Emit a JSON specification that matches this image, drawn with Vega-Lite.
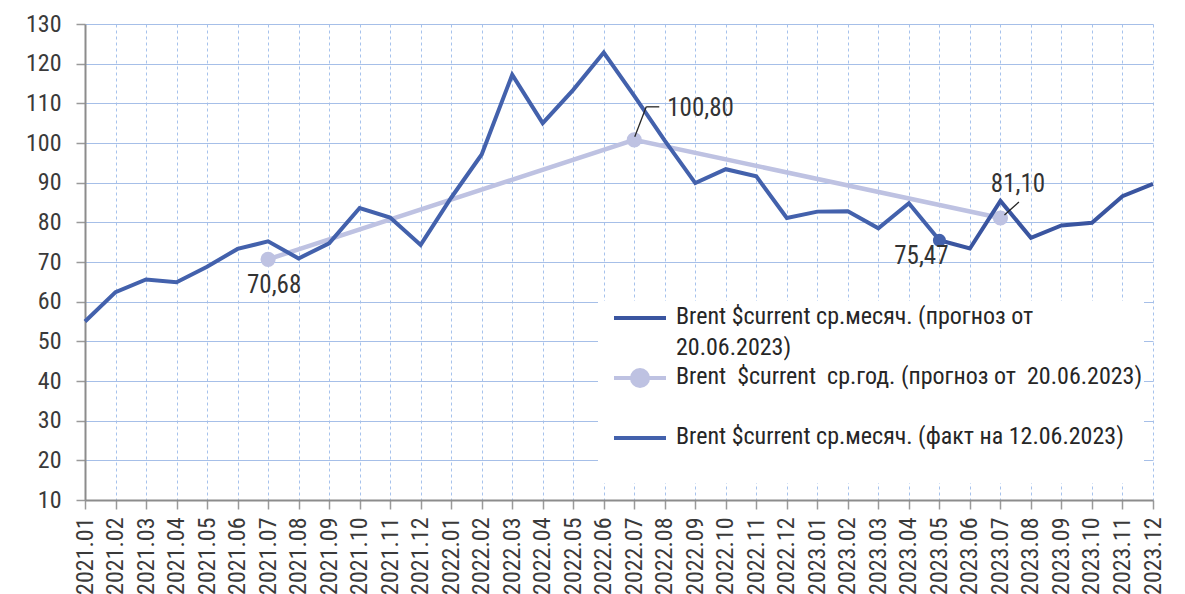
{
  "$schema": "https://vega.github.io/schema/vega-lite/v6.json",
  "width": 1068,
  "height": 476,
  "autosize": "none",
  "padding": {"left": 85, "top": 24, "right": 32, "bottom": 94},
  "background": "white",
  "config": {
    "font": "'Liberation Sans Narrow', 'Roboto Condensed', Roboto, sans-serif",
    "view": {"stroke": null}
  },
  "datasets": {
    "monthly": [
      {"month": "2021.01", "series": "Brent $current ср.месяч. (факт на 12.06.2023)", "value": 55.0},
      {"month": "2021.02", "series": "Brent $current ср.месяч. (факт на 12.06.2023)", "value": 62.4},
      {"month": "2021.03", "series": "Brent $current ср.месяч. (факт на 12.06.2023)", "value": 65.6},
      {"month": "2021.04", "series": "Brent $current ср.месяч. (факт на 12.06.2023)", "value": 64.9},
      {"month": "2021.05", "series": "Brent $current ср.месяч. (факт на 12.06.2023)", "value": 68.8},
      {"month": "2021.06", "series": "Brent $current ср.месяч. (факт на 12.06.2023)", "value": 73.3},
      {"month": "2021.07", "series": "Brent $current ср.месяч. (факт на 12.06.2023)", "value": 75.2},
      {"month": "2021.08", "series": "Brent $current ср.месяч. (факт на 12.06.2023)", "value": 70.9},
      {"month": "2021.09", "series": "Brent $current ср.месяч. (факт на 12.06.2023)", "value": 74.7},
      {"month": "2021.10", "series": "Brent $current ср.месяч. (факт на 12.06.2023)", "value": 83.6},
      {"month": "2021.11", "series": "Brent $current ср.месяч. (факт на 12.06.2023)", "value": 81.2},
      {"month": "2021.12", "series": "Brent $current ср.месяч. (факт на 12.06.2023)", "value": 74.3},
      {"month": "2022.01", "series": "Brent $current ср.месяч. (факт на 12.06.2023)", "value": 86.2},
      {"month": "2022.02", "series": "Brent $current ср.месяч. (факт на 12.06.2023)", "value": 97.1},
      {"month": "2022.03", "series": "Brent $current ср.месяч. (факт на 12.06.2023)", "value": 117.2},
      {"month": "2022.04", "series": "Brent $current ср.месяч. (факт на 12.06.2023)", "value": 105.0},
      {"month": "2022.05", "series": "Brent $current ср.месяч. (факт на 12.06.2023)", "value": 113.4},
      {"month": "2022.06", "series": "Brent $current ср.месяч. (факт на 12.06.2023)", "value": 122.8},
      {"month": "2022.07", "series": "Brent $current ср.месяч. (факт на 12.06.2023)", "value": 111.9},
      {"month": "2022.08", "series": "Brent $current ср.месяч. (факт на 12.06.2023)", "value": 100.6},
      {"month": "2022.09", "series": "Brent $current ср.месяч. (факт на 12.06.2023)", "value": 89.9},
      {"month": "2022.10", "series": "Brent $current ср.месяч. (факт на 12.06.2023)", "value": 93.4},
      {"month": "2022.11", "series": "Brent $current ср.месяч. (факт на 12.06.2023)", "value": 91.6},
      {"month": "2022.12", "series": "Brent $current ср.месяч. (факт на 12.06.2023)", "value": 81.1},
      {"month": "2023.01", "series": "Brent $current ср.месяч. (факт на 12.06.2023)", "value": 82.7},
      {"month": "2023.02", "series": "Brent $current ср.месяч. (факт на 12.06.2023)", "value": 82.8},
      {"month": "2023.03", "series": "Brent $current ср.месяч. (факт на 12.06.2023)", "value": 78.5},
      {"month": "2023.04", "series": "Brent $current ср.месяч. (факт на 12.06.2023)", "value": 84.8},
      {"month": "2023.05", "series": "Brent $current ср.месяч. (факт на 12.06.2023)", "value": 75.47},
      {"month": "2023.05", "series": "Brent $current ср.месяч. (прогноз от 20.06.2023)", "value": 75.47},
      {"month": "2023.06", "series": "Brent $current ср.месяч. (прогноз от 20.06.2023)", "value": 73.4},
      {"month": "2023.07", "series": "Brent $current ср.месяч. (прогноз от 20.06.2023)", "value": 85.4},
      {"month": "2023.08", "series": "Brent $current ср.месяч. (прогноз от 20.06.2023)", "value": 76.1},
      {"month": "2023.09", "series": "Brent $current ср.месяч. (прогноз от 20.06.2023)", "value": 79.2},
      {"month": "2023.10", "series": "Brent $current ср.месяч. (прогноз от 20.06.2023)", "value": 79.9},
      {"month": "2023.11", "series": "Brent $current ср.месяч. (прогноз от 20.06.2023)", "value": 86.6},
      {"month": "2023.12", "series": "Brent $current ср.месяч. (прогноз от 20.06.2023)", "value": 89.7}
    ],
    "annual": [
      {"month": "2021.07", "series": "Brent $current ср.год. (прогноз от 20.06.2023)", "value": 70.68},
      {"month": "2022.07", "series": "Brent $current ср.год. (прогноз от 20.06.2023)", "value": 100.8},
      {"month": "2023.07", "series": "Brent $current ср.год. (прогноз от 20.06.2023)", "value": 81.1}
    ],
    "labels": [
      {"month": "2021.07", "value": 70.68, "text": "70,68"},
      {"month": "2022.07", "value": 100.8, "text": "100,80"},
      {"month": "2023.07", "value": 81.1, "text": "81,10"},
      {"month": "2023.05", "value": 75.47, "text": "75,47"}
    ]
  },
  "encoding": {
    "x": {
      "field": "month",
      "type": "ordinal",
      "scale": {"type": "point", "padding": 0},
      "axis": {
        "title": null,
        "labelAngle": -90,
        "labelFontSize": 24,
        "labelColor": "#3A3A3A",
        "labelPadding": 8,
        "tickSize": 9,
        "tickWidth": 1.5,
        "tickColor": "#9A9A9A",
        "domainColor": "#8C8C8C",
        "domainWidth": 2,
        "grid": true,
        "gridDash": [3, 3],
        "gridColor": "#A6C2EC",
        "gridWidth": 1
      }
    },
    "y": {
      "field": "value",
      "type": "quantitative",
      "scale": {"domain": [10, 130], "nice": false, "zero": false},
      "axis": {
        "title": null,
        "values": [10, 20, 30, 40, 50, 60, 70, 80, 90, 100, 110, 120, 130],
        "labelFontSize": 24,
        "labelColor": "#3A3A3A",
        "labelPadding": 15,
        "tickSize": 9,
        "tickWidth": 1.5,
        "tickColor": "#9A9A9A",
        "domainColor": "#8C8C8C",
        "domainWidth": 2,
        "grid": true,
        "gridColor": "#A6BFE8",
        "gridWidth": 1
      }
    }
  },
  "layer": [
    {
      "data": {"name": "annual"},
      "mark": {"type": "line", "strokeWidth": 4.5},
      "encoding": {
        "color": {
          "field": "series",
          "type": "nominal",
          "scale": {
            "domain": [
              "Brent $current ср.месяч. (прогноз от 20.06.2023)",
              "Brent $current ср.год. (прогноз от 20.06.2023)",
              "Brent $current ср.месяч. (факт на 12.06.2023)"
            ],
            "range": ["#3A55A0", "#BEC2E2", "#4361AC"]
          },
          "legend": {
            "title": null,
            "orient": "none",
            "legendX": 513,
            "legendY": 277,
            "direction": "vertical",
            "fillColor": "white",
            "padding": 1,
            "clipHeight": 60,
            "rowPadding": 0,
            "symbolType": "stroke",
            "symbolSize": 2704,
            "symbolStrokeWidth": 4,
            "symbolOffset": 13,
            "labelOffset": 8,
            "labelFontSize": 24,
            "labelColor": "#262626",
            "labelLimit": 1000,
            "labelBaseline": "top",
            "labelExpr": "indexof(datum.label, 'ср.год') >= 0 ? 'Brent\u00a0 $current\u00a0 ср.год. (прогноз от\u00a0 20.06.2023)' : indexof(datum.label, 'прогноз') >= 0 ? ['Brent $current ср.месяч. (прогноз от', '20.06.2023)'] : datum.label",
            "encode": {
              "symbols": {
                "update": {
                  "y": {"value": 16},
                  "shape": {"signal": "indexof(datum.value, 'ср.год') >= 0 ? 'M-1,0H1M-0.31,0A0.31,0.31 0 1,1 0.31,0A0.31,0.31 0 1,1 -0.31,0Z' : 'stroke'"},
                  "fill": {"signal": "indexof(datum.value, 'ср.год') >= 0 ? '#BEC2E2' : 'transparent'"}
                }
              },
              "labels": {
                "update": {
                  "y": {"value": 3},
                  "lineHeight": {"value": 31}
                }
              }
            }
          }
        }
      }
    },
    {
      "data": {"name": "annual"},
      "mark": {"type": "point", "filled": true, "size": 230, "opacity": 1, "color": "#BEC2E2"}
    },
    {
      "data": {"name": "monthly"},
      "mark": {"type": "line", "strokeWidth": 4},
      "encoding": {
        "color": {"field": "series", "type": "nominal"}
      }
    },
    {
      "data": {"name": "labels"},
      "transform": [{"filter": "datum.text == '75,47'"}],
      "mark": {"type": "point", "filled": true, "size": 170, "opacity": 1, "color": "#4361AC"}
    },
    {
      "data": {"name": "labels"},
      "transform": [{"filter": "datum.text == '100,80'"}],
      "mark": {"type": "rule", "color": "#262626", "strokeWidth": 1.3, "xOffset": 0.5, "yOffset": -3, "x2Offset": 12, "y2Offset": -33},
      "encoding": {"x2": {"field": "month"}, "y2": {"field": "value"}}
    },
    {
      "data": {"name": "labels"},
      "transform": [{"filter": "datum.text == '100,80'"}],
      "mark": {"type": "rule", "color": "#262626", "strokeWidth": 1.3, "xOffset": 12, "yOffset": -33, "x2Offset": 25, "y2Offset": -33},
      "encoding": {"x2": {"field": "month"}, "y2": {"field": "value"}}
    },
    {
      "data": {"name": "labels"},
      "transform": [{"filter": "datum.text == '81,10'"}],
      "mark": {"type": "rule", "color": "#262626", "strokeWidth": 1.3, "xOffset": 4, "yOffset": -3, "x2Offset": 18.5, "y2Offset": -16},
      "encoding": {"x2": {"field": "month"}, "y2": {"field": "value"}}
    },
    {
      "data": {"name": "labels"},
      "transform": [{"filter": "datum.text == '70,68'"}],
      "mark": {"type": "text", "fontSize": 25, "color": "#333333", "align": "center", "baseline": "middle", "dx": 6, "dy": 26},
      "encoding": {"text": {"field": "text"}}
    },
    {
      "data": {"name": "labels"},
      "transform": [{"filter": "datum.text == '100,80'"}],
      "mark": {"type": "text", "fontSize": 25, "color": "#333333", "align": "left", "baseline": "middle", "dx": 33, "dy": -32},
      "encoding": {"text": {"field": "text"}}
    },
    {
      "data": {"name": "labels"},
      "transform": [{"filter": "datum.text == '81,10'"}],
      "mark": {"type": "text", "fontSize": 25, "color": "#333333", "align": "center", "baseline": "middle", "dx": 17.5, "dy": -34},
      "encoding": {"text": {"field": "text"}}
    },
    {
      "data": {"name": "labels"},
      "transform": [{"filter": "datum.text == '75,47'"}],
      "mark": {"type": "text", "fontSize": 25, "color": "#333333", "align": "center", "baseline": "middle", "dx": -18, "dy": 16},
      "encoding": {"text": {"field": "text"}}
    }
  ]
}
